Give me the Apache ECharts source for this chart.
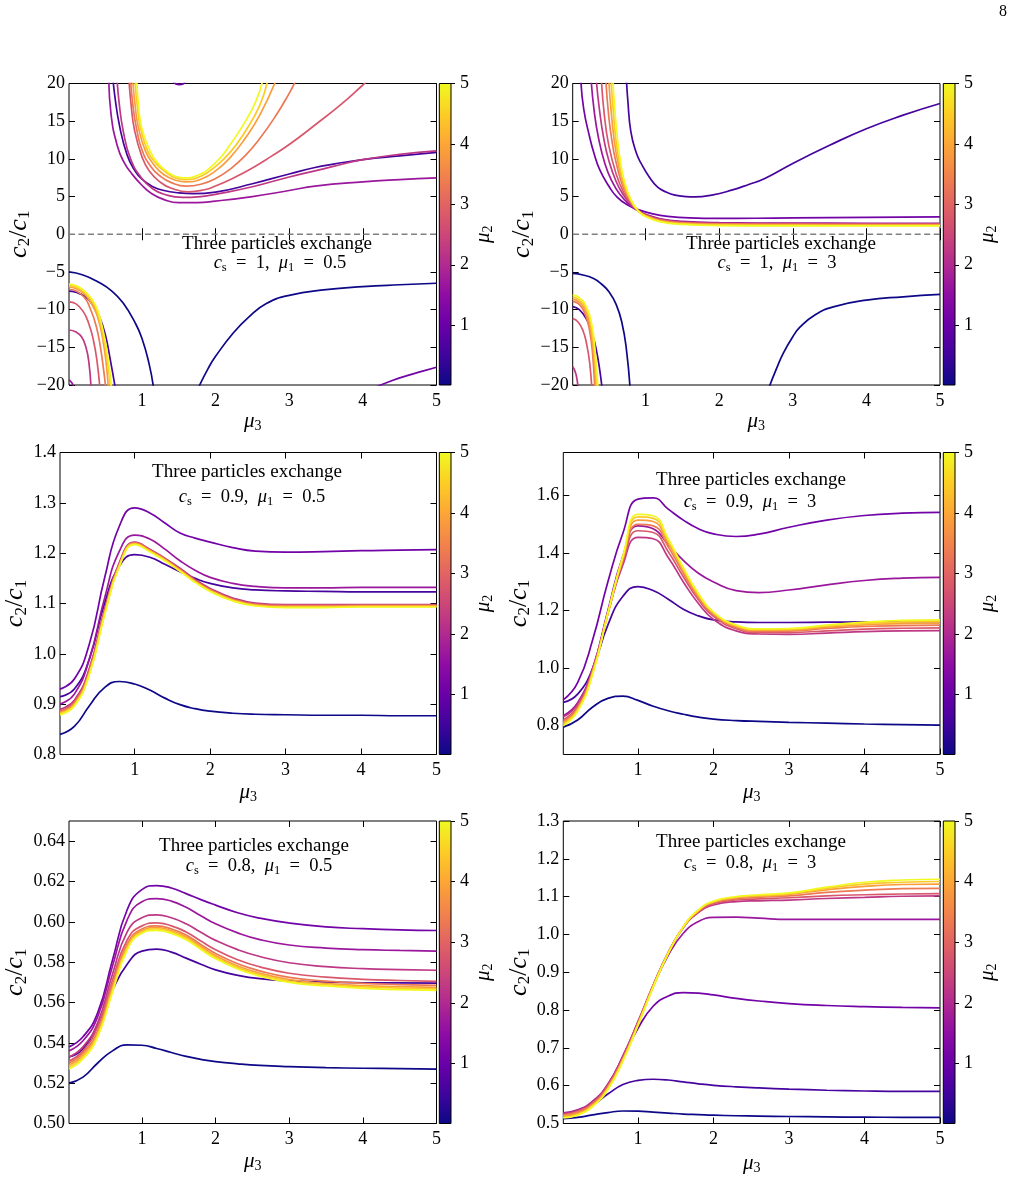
<!DOCTYPE html>
<html><head><meta charset="utf-8">
<script src="https://cdn.jsdelivr.net/npm/echarts@6/dist/echarts.min.js"></script>
<style>html,body{margin:0;padding:0;background:#fff}#c{width:1015px;height:1203px}</style>
</head><body><div id="c"></div>
<script>
// ---------------- DATA ----------------
const MU2 = [0.01, 0.564, 1.119, 1.673, 2.228, 2.782, 3.337, 3.891, 4.446, 5.0];
const MU2_MIN = 0.01, MU2_MAX = 5;
const MU3_GRID = [0.01, 0.2, 0.4, 0.6, 0.8, 1.0, 1.2, 1.4, 1.6, 1.8, 2.0, 2.3, 2.6, 3.0, 3.5, 4.0, 4.5, 5.0];
const X_TICKS = [1, 2, 3, 4, 5];
const CB_TICKS = [1, 2, 3, 4, 5];
const Y_TICKS_1 = [-20, -15, -10, -5, 0, 5, 10, 15, 20];
const Y_TICKS_3 = [0.8, 0.9, 1.0, 1.1, 1.2, 1.3, 1.4];
const Y_TICKS_4 = [0.8, 1.0, 1.2, 1.4, 1.6];
const Y_TICKS_5 = [0.50, 0.52, 0.54, 0.56, 0.58, 0.60, 0.62, 0.64];
const Y_TICKS_6 = [0.5, 0.6, 0.7, 0.8, 0.9, 1.0, 1.1, 1.2, 1.3];
const CS = ['1', '1', '0.9', '0.9', '0.8', '0.8'];
const MU1 = ['0.5', '3', '0.5', '3', '0.5', '3'];
const ZERO_REF_X = [0.01, 5];

// Panel 1 (cs=1, mu1=0.5): branches separated by null
const P1_X = [
 [0.01,0.2,0.4,0.6,0.75,0.9,1.0,1.1,1.16,null,1.76,1.9,2.0,2.24,2.45,2.69,3.0,3.5,4.0,4.5,5.0],
 [0.01,0.1,0.22,0.32,0.42,0.5,0.57,0.64,null,0.6,0.63,0.7,0.8,0.9,1.0,1.15,1.3,1.5,1.7,2.0,2.5,3.0,3.35,3.6,4.0,4.5,5.0],
 [1.3,1.42,1.51,1.6,1.72,null,4.12,4.4,4.6,4.8,5.0],
 [0.01,0.03,0.06,0.08,null,0.55,0.58,0.67,0.76,0.86,1.0,1.13,1.3,1.5,1.75,2.0,2.5,3.0,3.35,4.0,4.5,5.0],
 [0.01,0.1,0.18,0.24,0.28,0.31,null,0.66,0.69,0.75,0.85,1.0,1.15,1.3,1.55,1.8,2.0,2.5,3.0,3.35,3.6,4.0,4.5,5.0],
 [0.01,0.1,0.2,0.28,0.34,0.39,0.43,null,0.82,0.85,0.9,1.0,1.1,1.25,1.4,1.63,1.85,2.0,2.25,2.5,2.75,3.0,3.35,3.7,4.0,4.1],
 [0.01,0.1,0.22,0.3,0.38,0.44,0.48,0.51,null,0.845,0.88,0.92,1.0,1.12,1.25,1.4,1.6,1.8,2.0,2.2,2.4,2.6,2.8,3.0,3.09],
 [0.01,0.1,0.22,0.32,0.4,0.47,0.52,0.545,null,0.875,0.91,0.95,1.05,1.18,1.3,1.45,1.6,1.8,2.0,2.2,2.4,2.6,2.82],
 [0.01,0.1,0.22,0.32,0.4,0.48,0.54,0.575,null,0.905,0.94,0.98,1.08,1.2,1.33,1.45,1.59,1.8,2.0,2.2,2.4,2.6,2.71],
 [0.01,0.1,0.22,0.32,0.4,0.49,0.55,0.59,null,0.93,0.96,1.0,1.1,1.2,1.33,1.45,1.58,1.75,2.0,2.2,2.4,2.55,2.64]
];
const P1_Y = [
 [-5.0,-5.4,-6.3,-7.6,-9.2,-11.6,-13.8,-17.3,-20.5,null,-20.5,-17.8,-16.2,-13.1,-11.0,-9.2,-8.1,-7.35,-6.95,-6.7,-6.5],
 [-7.55,-7.7,-8.2,-9.2,-10.9,-13.2,-16.6,-20.5,null,21.5,18.5,14.2,10.5,8.5,7.3,6.3,5.8,5.5,5.4,5.6,6.7,8.0,8.86,9.3,9.9,10.4,10.85],
 [22,20.3,19.85,20.3,22,null,-20.5,-19.4,-18.75,-18.2,-17.65],
 [-19.35,-19.5,-19.9,-20.5,null,21,16.0,11.6,9.5,8.06,6.5,5.41,4.6,4.2,4.2,4.4,5.0,5.8,6.38,6.95,7.25,7.48],
 [-12.7,-12.95,-13.6,-15.0,-17.0,-20.5,null,21,17.5,13.5,9.9,7.4,6.0,5.3,4.88,5.0,5.3,6.3,7.6,8.41,9.0,9.9,10.6,11.05],
 [-8.96,-9.2,-10.2,-11.9,-14.0,-16.8,-20.5,null,21,17.5,13.8,10.3,8.4,6.9,6.1,5.63,5.9,6.4,7.5,8.8,10.3,11.9,14.5,17.2,19.8,20.7],
 [-7.3,-7.5,-8.4,-9.9,-12.2,-15.2,-18.0,-20.5,null,20.4,16.9,14.4,11.2,9.0,7.7,6.85,6.38,6.63,7.39,8.65,10.4,12.7,15.45,18.7,20.4],
 [-7.0,-7.2,-7.95,-9.3,-11.0,-14.0,-17.6,-20.5,null,20.4,16.9,14.3,11.0,9.0,7.9,7.2,6.95,7.3,8.4,10.2,12.7,15.8,20.4],
 [-6.8,-7.0,-7.7,-8.9,-10.5,-13.7,-17.4,-20.5,null,20.4,16.8,14.2,11.0,9.3,8.2,7.5,7.26,7.7,9.0,10.9,13.6,17.1,20.5],
 [-6.62,-6.8,-7.5,-8.6,-10.1,-13.6,-17.2,-20.5,null,20.4,16.5,14.0,11.3,9.6,8.4,7.7,7.48,7.8,9.5,11.9,14.9,17.7,20.4]
];

// Panel 2 (cs=1, mu1=3)
const P2_X = [
 [0.01,0.15,0.3,0.4,0.5,0.6,0.68,0.74,0.79,null,2.67,2.78,2.87,3.0,3.1,3.3,3.55,4.0,4.5,5.0],
 [0.01,0.1,0.2,0.28,0.34,0.38,0.41,null,0.74,0.76,0.8,0.87,0.94,1.05,1.16,1.28,1.4,1.55,1.67,1.9,2.17,2.4,2.62,3.0,3.5,4.0,4.5,5.0],
 [0.12,0.16,0.24,0.3,0.38,0.5,0.61,0.75,0.92,1.1,1.3,1.6,2.0,2.5,3.0,4.0,5.0],
 [0.26,0.3,0.36,0.45,0.55,0.65,0.8,0.9,1.0,1.2,1.5,2.0,3.0,4.0,5.0],
 [0.01,0.03,0.06,0.085,null,0.33,0.37,0.43,0.5,0.6,0.7,0.8,0.9,1.0,1.2,1.5,2.0,3.0,4.0,5.0],
 [0.01,0.08,0.15,0.2,0.24,0.27,null,0.4,0.44,0.5,0.6,0.7,0.8,0.9,1.0,1.2,1.5,2.0,3.0,4.0,5.0],
 [0.01,0.1,0.18,0.24,0.28,0.31,null,0.46,0.5,0.55,0.6,0.7,0.8,0.9,1.0,1.2,1.5,2.0,3.0,4.0,5.0],
 [0.01,0.1,0.19,0.25,0.29,0.325,null,0.5,0.54,0.6,0.7,0.8,0.9,1.0,1.2,1.5,2.0,3.0,4.0,5.0],
 [0.01,0.1,0.2,0.26,0.3,0.34,null,0.53,0.56,0.6,0.65,0.7,0.8,0.9,1.0,1.2,1.5,2.0,3.0,4.0,5.0],
 [0.01,0.1,0.2,0.27,0.31,0.355,null,0.555,0.58,0.62,0.66,0.7,0.8,0.9,1.0,1.2,1.5,2.0,3.0,4.0,5.0]
];
const P2_Y = [
 [-5.2,-5.4,-5.9,-6.6,-7.6,-9.3,-11.8,-15.3,-20.5,null,-20.5,-17.8,-15.8,-13.6,-12.3,-10.7,-9.63,-8.74,-8.3,-7.98],
 [-9.6,-10.0,-11.3,-13.3,-15.8,-18.2,-20.5,null,20.5,17.6,13.6,10.9,9.39,7.6,6.29,5.6,5.19,5.0,4.96,5.2,5.85,6.6,7.4,9.4,11.8,14.0,15.8,17.35],
 [20.5,16.6,12.9,10.7,8.5,6.4,4.96,3.9,3.2,2.7,2.38,2.17,2.1,2.12,2.17,2.25,2.31],
 [20.5,16.5,12.8,9.3,6.9,5.3,3.75,3.1,2.65,2.05,1.7,1.53,1.47,1.46,1.45],
 [-17.6,-17.9,-18.8,-20.5,null,20.5,16.8,12.8,9.8,7.0,5.2,3.95,3.1,2.6,1.98,1.62,1.46,1.41,1.39,1.38],
 [-11.2,-11.6,-12.8,-14.6,-17.0,-20.5,null,20.5,15.8,11.8,8.0,5.6,4.1,3.1,2.55,1.92,1.56,1.41,1.35,1.33,1.33],
 [-8.9,-9.3,-10.6,-12.8,-15.8,-20.5,null,20.5,15.6,12.0,9.5,6.1,4.25,3.1,2.5,1.85,1.5,1.35,1.3,1.28,1.28],
 [-8.6,-9.0,-10.3,-12.5,-15.5,-20.5,null,20.5,15.5,10.8,6.6,4.4,3.1,2.45,1.78,1.45,1.3,1.24,1.22,1.22],
 [-8.35,-8.7,-10.0,-12.2,-15.2,-20.5,null,20.5,16.5,12.3,9.1,7.0,4.5,3.1,2.4,1.72,1.38,1.22,1.17,1.16,1.16],
 [-8.08,-8.4,-9.7,-12.0,-15.0,-20.5,null,20.5,16.8,12.5,9.6,7.5,4.6,3.1,2.35,1.65,1.3,1.15,1.1,1.1,1.1]
];

// Panel 3 (cs=0.9, mu1=0.5), sampled on MU3_GRID
const P3_Y = [
 [0.840,0.856,0.897,0.933,0.945,0.940,0.928,0.912,0.899,0.891,0.886,0.882,0.880,0.879,0.878,0.878,0.877,0.877],
 [0.915,0.930,0.990,1.100,1.175,1.197,1.192,1.178,1.163,1.150,1.140,1.131,1.127,1.125,1.124,1.123,1.123,1.123],
 [0.930,0.950,1.020,1.150,1.255,1.290,1.280,1.260,1.240,1.230,1.222,1.211,1.204,1.202,1.203,1.205,1.206,1.207],
 [0.900,0.920,0.990,1.110,1.205,1.236,1.228,1.208,1.185,1.166,1.152,1.140,1.134,1.131,1.131,1.132,1.132,1.132],
 [0.890,0.908,0.972,1.088,1.183,1.222,1.208,1.190,1.170,1.148,1.130,1.111,1.101,1.098,1.098,1.098,1.098,1.098],
 [0.887,0.905,0.969,1.085,1.181,1.221,1.207,1.189,1.168,1.146,1.128,1.109,1.099,1.097,1.097,1.097,1.097,1.097],
 [0.885,0.902,0.966,1.082,1.179,1.220,1.206,1.188,1.167,1.145,1.127,1.108,1.098,1.095,1.095,1.096,1.096,1.096],
 [0.883,0.900,0.963,1.080,1.177,1.219,1.205,1.187,1.166,1.144,1.126,1.107,1.097,1.094,1.094,1.095,1.095,1.095],
 [0.881,0.898,0.961,1.078,1.176,1.218,1.204,1.186,1.165,1.143,1.125,1.106,1.096,1.093,1.093,1.094,1.094,1.094],
 [0.879,0.896,0.959,1.076,1.175,1.217,1.203,1.185,1.164,1.142,1.124,1.105,1.095,1.092,1.092,1.093,1.093,1.093]
];
// Panel 4 (cs=0.9, mu1=3)
const P4_Y = [
 [0.795,0.820,0.865,0.895,0.903,0.888,0.868,0.852,0.840,0.830,0.823,0.818,0.815,0.812,0.809,0.806,0.804,0.802],
 [0.881,0.910,1.000,1.150,1.250,1.284,1.270,1.240,1.205,1.182,1.168,1.161,1.159,1.159,1.160,1.161,1.162,1.162],
 [0.890,0.950,1.100,1.300,1.470,1.588,1.592,1.553,1.515,1.485,1.467,1.458,1.466,1.490,1.515,1.531,1.539,1.542],
 [0.835,0.880,1.000,1.200,1.390,1.495,1.485,1.430,1.375,1.330,1.300,1.270,1.263,1.272,1.290,1.305,1.313,1.316],
 [0.830,0.875,1.000,1.190,1.360,1.455,1.450,1.385,1.300,1.225,1.170,1.130,1.119,1.118,1.122,1.127,1.130,1.131],
 [0.820,0.868,0.995,1.190,1.370,1.478,1.472,1.405,1.318,1.238,1.180,1.137,1.124,1.124,1.130,1.136,1.139,1.140],
 [0.815,0.862,0.990,1.190,1.376,1.500,1.495,1.422,1.330,1.245,1.186,1.141,1.128,1.129,1.138,1.145,1.148,1.150],
 [0.810,0.858,0.986,1.190,1.382,1.515,1.510,1.434,1.339,1.251,1.190,1.145,1.132,1.133,1.143,1.151,1.155,1.157],
 [0.805,0.854,0.983,1.190,1.386,1.526,1.521,1.443,1.345,1.256,1.193,1.148,1.135,1.136,1.147,1.156,1.161,1.163],
 [0.800,0.850,0.980,1.190,1.390,1.535,1.530,1.450,1.350,1.260,1.195,1.150,1.137,1.138,1.150,1.160,1.166,1.168]
];
// Panel 5 (cs=0.8, mu1=0.5)
const P5_Y = [
 [0.520,0.523,0.530,0.536,0.5390,0.5388,0.5372,0.5352,0.5333,0.5318,0.5307,0.5296,0.5288,0.5282,0.5277,0.5274,0.5272,0.5270],
 [0.533,0.537,0.549,0.566,0.579,0.5855,0.5865,0.585,0.582,0.579,0.5762,0.5735,0.5718,0.5707,0.5701,0.5698,0.5697,0.5696],
 [0.538,0.543,0.555,0.581,0.606,0.6160,0.6180,0.6168,0.6140,0.6110,0.6083,0.6045,0.6018,0.5994,0.5975,0.5966,0.5960,0.5957],
 [0.536,0.541,0.553,0.578,0.601,0.6100,0.6115,0.6103,0.6072,0.6030,0.5990,0.5945,0.5912,0.5885,0.5870,0.5862,0.5858,0.5855],
 [0.533,0.538,0.550,0.574,0.595,0.6020,0.6035,0.6020,0.5990,0.5948,0.5908,0.5862,0.5828,0.5797,0.5778,0.5768,0.5763,0.5760],
 [0.531,0.536,0.548,0.571,0.591,0.5980,0.5995,0.5980,0.5950,0.5905,0.5862,0.5812,0.5777,0.5745,0.5726,0.5715,0.5709,0.5705],
 [0.530,0.535,0.546,0.569,0.589,0.5965,0.5980,0.5965,0.5935,0.5888,0.5843,0.5792,0.5757,0.5725,0.5706,0.5695,0.5689,0.5685],
 [0.529,0.534,0.545,0.567,0.588,0.5957,0.5972,0.5957,0.5926,0.5878,0.5832,0.5781,0.5746,0.5714,0.5695,0.5684,0.5679,0.5675],
 [0.528,0.533,0.544,0.566,0.587,0.5950,0.5965,0.5950,0.5918,0.5870,0.5824,0.5773,0.5738,0.5706,0.5688,0.5677,0.5671,0.5668],
 [0.527,0.532,0.543,0.565,0.586,0.5943,0.5958,0.5943,0.5911,0.5863,0.5817,0.5766,0.5731,0.5700,0.5682,0.5670,0.5664,0.5660]
];
// Panel 6 (cs=0.8, mu1=3)
const P6_Y = [
 [0.513,0.516,0.523,0.529,0.533,0.5325,0.530,0.5275,0.525,0.5235,0.522,0.5205,0.5195,0.5185,0.5175,0.5168,0.5163,0.516],
 [0.520,0.528,0.549,0.578,0.603,0.614,0.617,0.615,0.610,0.605,0.601,0.597,0.594,0.591,0.588,0.586,0.585,0.585],
 [0.525,0.533,0.556,0.600,0.675,0.752,0.810,0.837,0.846,0.845,0.840,0.831,0.824,0.817,0.812,0.809,0.807,0.806],
 [0.528,0.536,0.559,0.604,0.679,0.768,0.862,0.945,1.003,1.034,1.045,1.046,1.043,1.040,1.040,1.040,1.040,1.040],
 [0.527,0.535,0.558,0.603,0.678,0.770,0.866,0.952,1.018,1.058,1.078,1.087,1.089,1.091,1.095,1.098,1.101,1.102],
 [0.524,0.532,0.555,0.600,0.674,0.767,0.865,0.952,1.019,1.060,1.081,1.091,1.094,1.097,1.102,1.105,1.107,1.108],
 [0.522,0.530,0.552,0.597,0.671,0.765,0.864,0.952,1.020,1.062,1.084,1.094,1.098,1.102,1.111,1.117,1.121,1.122],
 [0.520,0.527,0.549,0.594,0.669,0.763,0.863,0.951,1.020,1.063,1.086,1.097,1.101,1.106,1.118,1.127,1.132,1.133],
 [0.517,0.524,0.547,0.592,0.667,0.761,0.861,0.950,1.020,1.064,1.087,1.099,1.103,1.108,1.122,1.133,1.138,1.140],
 [0.515,0.522,0.545,0.590,0.665,0.760,0.860,0.950,1.020,1.065,1.088,1.100,1.105,1.110,1.125,1.138,1.144,1.146]
];

// ---------------- STYLE / LAYOUT ----------------
const PLASMA = ['#0d0887','#41049d','#6a00a8','#8f0da4','#b12a90','#cc4778','#e16462','#f2844b','#fca636','#fcce25','#f0f921'];
function hex2rgb(h){return [parseInt(h.slice(1,3),16),parseInt(h.slice(3,5),16),parseInt(h.slice(5,7),16)];}
function plasma(t){
  t = Math.max(0, Math.min(1, t));
  const n = PLASMA.length - 1, p = t * n, i = Math.min(n - 1, Math.floor(p)), f = p - i;
  const a = hex2rgb(PLASMA[i]), b = hex2rgb(PLASMA[i + 1]);
  return 'rgb(' + a.map((v, k) => Math.round(v + (b[k] - v) * f)).join(',') + ')';
}
const FONT = 'Liberation Serif';
const LAYOUT = [
  {left:69,    top:83.5,  w:367.5, h:301.5, cb:439.3, yGap:31, xGap:24, ymin:-20, ymax:20,   yt:Y_TICKS_1, dec:0, t1:[277,244], t2:[280,263]},
  {left:572.7, top:83.5,  w:367.3, h:301.5, cb:943.3, yGap:33, xGap:24, ymin:-20, ymax:20,   yt:Y_TICKS_1, dec:0, t1:[781,244], t2:[777,263]},
  {left:60,    top:452.5, w:376.5, h:302,   cb:439.3, yGap:22, xGap:26, ymin:0.8, ymax:1.4,  yt:Y_TICKS_3, dec:1, t1:[247,472], t2:[252,497]},
  {left:563.3, top:452.5, w:376.7, h:302,   cb:943.3, yGap:23, xGap:26, ymin:0.7, ymax:1.75, yt:Y_TICKS_4, dec:1, t1:[751,480], t2:[750,502]},
  {left:69,    top:821,   w:367.5, h:302.5, cb:439.3, yGap:31, xGap:26, ymin:0.5, ymax:0.65, yt:Y_TICKS_5, dec:2, t1:[254,846], t2:[259,866]},
  {left:563.3, top:821,   w:376.7, h:302.5, cb:943.3, yGap:23, xGap:28, ymin:0.5, ymax:1.3,  yt:Y_TICKS_6, dec:1, t1:[751,842], t2:[750,863]}
];
const CB_W = 11.7;

function fmt(v, d){ let s = Number(v).toFixed(d); if (s.charAt(0) === '-') s = '\u2212' + s.slice(1); return s; }
function pieces(xs, ys){
  const out = []; let cur = [];
  for (let i = 0; i < xs.length; i++) {
    if (xs[i] === null || ys[i] === null) { if (cur.length) out.push(cur); cur = []; }
    else cur.push([xs[i], ys[i]]);
  }
  if (cur.length) out.push(cur);
  return out;
}
const RICH_Y = {
  i:{fontFamily:FONT, fontStyle:'italic', fontSize:26, lineHeight:28, color:'#000'},
  n:{fontFamily:FONT, fontSize:26, lineHeight:28, color:'#000'},
  s:{fontFamily:FONT, fontSize:17, lineHeight:16, verticalAlign:'bottom', color:'#000'}
};
const RICH_MU = {
  i:{fontFamily:FONT, fontStyle:'italic', fontSize:21, lineHeight:24, color:'#000'},
  s:{fontFamily:FONT, fontSize:14, lineHeight:14, verticalAlign:'bottom', color:'#000'}
};
const RICH_T = {
  i:{fontFamily:FONT, fontStyle:'italic', fontSize:18.5, lineHeight:22, color:'#000'},
  n:{fontFamily:FONT, fontSize:18.5, lineHeight:22, color:'#000'},
  s:{fontFamily:FONT, fontSize:12.5, lineHeight:12, verticalAlign:'bottom', color:'#000'}
};
const labelStyle = {color:'#000', fontFamily:'"Liberation Serif", serif', fontSize:18};
const tickStyle = {color:'#000', width:1};

const grids = [], xAxes = [], yAxes = [], series = [], graphics = [];
const stops = PLASMA.map((c, i) => ({offset: i / (PLASMA.length - 1), color: c}));

LAYOUT.forEach((L, p) => {
  const gP = grids.length;
  grids.push({left:L.left, top:L.top, width:L.w, height:L.h, show:true, borderColor:'#000', borderWidth:1, backgroundColor:'transparent', containLabel:false, outerBoundsMode:'none'});
  const gC = grids.length;
  grids.push({left:L.cb, top:L.top, width:CB_W, height:L.h, show:true, borderColor:'#000', borderWidth:1, backgroundColor:'transparent', containLabel:false, outerBoundsMode:'none'});

  const xMain = xAxes.length;
  xAxes.push({type:'value', gridIndex:gP, min:MU2_MIN, max:5, position:'bottom',
    axisLine:{show:false}, splitLine:{show:false},
    axisTick:{show:true, inside:true, length:6, customValues:X_TICKS, lineStyle:tickStyle},
    axisLabel:Object.assign({show:true, customValues:X_TICKS, margin:7, formatter:v => fmt(v, 0)}, labelStyle),
    name:'{i|μ}{s|3}', nameLocation:'middle', nameGap:L.xGap, nameTextStyle:{rich:RICH_MU}});
  xAxes.push({type:'value', gridIndex:gP, min:MU2_MIN, max:5, position:'top',
    axisLine:{show:false}, splitLine:{show:false}, axisLabel:{show:false},
    axisTick:{show:true, inside:true, length:6, customValues:X_TICKS, lineStyle:tickStyle}});
  const xCb = xAxes.length;
  xAxes.push({type:'category', gridIndex:gC, data:['cb'], show:false});

  const yMain = yAxes.length;
  yAxes.push({type:'value', gridIndex:gP, min:L.ymin, max:L.ymax, position:'left',
    axisLine:{show:false}, splitLine:{show:false},
    axisTick:{show:true, inside:true, length:6, customValues:L.yt, lineStyle:tickStyle},
    axisLabel:Object.assign({show:true, customValues:L.yt, margin:4, formatter:v => fmt(v, L.dec)}, labelStyle),
    name:'{i|c}{s|2}{n|/}{i|c}{s|1}', nameLocation:'middle', nameGap:L.yGap, nameTextStyle:{rich:RICH_Y}});
  yAxes.push({type:'value', gridIndex:gP, min:L.ymin, max:L.ymax, position:'right',
    axisLine:{show:false}, splitLine:{show:false}, axisLabel:{show:false},
    axisTick:{show:true, inside:true, length:6, customValues:L.yt, lineStyle:tickStyle}});
  const yCb = yAxes.length;
  yAxes.push({type:'value', gridIndex:gC, min:MU2_MIN, max:MU2_MAX, position:'right',
    axisLine:{show:false}, splitLine:{show:false},
    axisTick:{show:true, inside:false, length:4, customValues:CB_TICKS, lineStyle:tickStyle},
    axisLabel:Object.assign({show:true, customValues:CB_TICKS, margin:9, formatter:v => fmt(v, 0)}, labelStyle),
    name:'{i|μ}{s|2}', nameLocation:'middle', nameGap:19, nameRotate:90, nameTextStyle:{rich:RICH_MU}});

  // colorbar
  series.push({type:'bar', xAxisIndex:xCb, yAxisIndex:yCb, data:[MU2_MAX], barWidth:'100%', barCategoryGap:0,
    itemStyle:{color:new echarts.graphic.LinearGradient(0, 1, 0, 0, stops)}, silent:true, animation:false, z:-1});

  // zero reference (panels with negative range)
  if (L.ymin < 0) {
    series.push({type:'line', xAxisIndex:xMain, yAxisIndex:yMain, data:ZERO_REF_X.map(x => [x, 0]),
      showSymbol:false, symbol:'none', silent:true, animation:false,
      lineStyle:{color:'#808080', width:1.5, type:[6, 3.5]}});
  }

  // curves
  MU2.forEach((mu, k) => {
    const color = plasma((mu - MU2_MIN) / (MU2_MAX - MU2_MIN));
    let segs;
    if (p === 0) segs = pieces(P1_X[k], P1_Y[k]);
    else if (p === 1) segs = pieces(P2_X[k], P2_Y[k]);
    else {
      const Y = [null, null, P3_Y, P4_Y, P5_Y, P6_Y][p];
      segs = pieces(MU3_GRID, Y[k]);
    }
    segs.forEach(seg => {
      series.push({type:'line', xAxisIndex:xMain, yAxisIndex:yMain, data:seg,
        showSymbol:false, symbol:'none', smooth:0.5, clip:true,
        silent:true, animation:false, lineStyle:{color:color, width:1.7}});
    });
  });

  // annotation text
  graphics.push({type:'text', x:L.t1[0], y:L.t1[1], z:100,
    style:{text:'Three particles exchange', font:'19px "' + FONT + '"', fill:'#000', align:'center', verticalAlign:'middle'}});
  graphics.push({type:'text', x:L.t2[0], y:L.t2[1], z:100,
    style:{text:'{i|c}{s|s}{n|\u2002=\u2002' + CS[p] + ',\u2002}{i|μ}{s|1}{n|\u2002=\u2002' + MU1[p] + '}',
      rich:RICH_T, fill:'#000', align:'center', verticalAlign:'middle'}});
});

graphics.push({type:'text', x:1003, y:12, z:100,
  style:{text:'8', font:'16px "' + FONT + '"', fill:'#000', align:'center', verticalAlign:'middle'}});

const chart = echarts.init(document.getElementById('c'), null, {renderer:'canvas'});
chart.setOption({
  animation:false,
  backgroundColor:'#fff',
  textStyle:{fontFamily:FONT},
  grid:grids, xAxis:xAxes, yAxis:yAxes, series:series, graphic:graphics
});
</script></body></html>
